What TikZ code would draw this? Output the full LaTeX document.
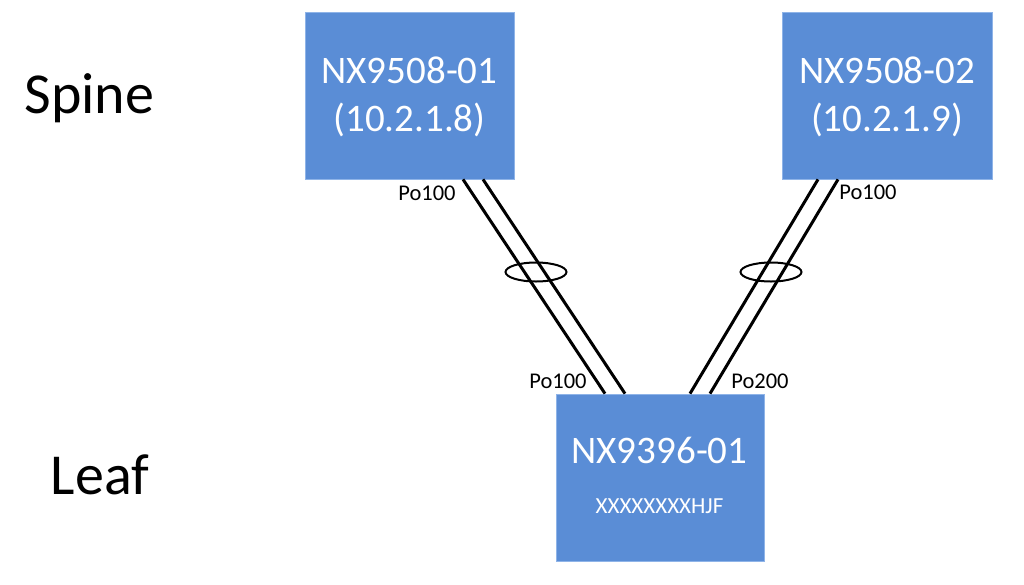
\documentclass[tikz,border=0pt]{standalone}
\usepackage{fontspec}
\setmainfont{Carlito}
\usetikzlibrary{shapes.geometric}
\definecolor{boxblue}{HTML}{5A8DD6}
\definecolor{boxedge}{HTML}{8FB4E8}
\tikzset{
  switchbox/.style={rectangle, fill=boxblue, draw=boxedge, line width=0.8pt, inner sep=0pt},
  boxtext/.style={text=white, font=\fontsize{39}{47}\selectfont, inner sep=0pt, anchor=base},
  smalltext/.style={text=white, font=\fontsize{23}{27}\selectfont, inner sep=0pt, anchor=base},
  tiertext/.style={text=black, font=\fontsize{58}{70}\selectfont, inner sep=0pt, anchor=base},
  portlabel/.style={text=black, font=\fontsize{22.5}{27}\selectfont, inner sep=0pt, anchor=base},
  link/.style={draw=black, line width=3pt},
  lag/.style={ellipse, draw=black, line width=2pt, inner sep=0pt, minimum width=61pt, minimum height=19pt}
}
\begin{document}
\begin{tikzpicture}[x=1pt,y=-1pt]
\useasboundingbox (0,0) rectangle (1024,584);
\fill[white] (0,0) rectangle (1024,584);

% switches
\node[switchbox, minimum width=209pt, minimum height=167pt] (spine1) at (409.5,95.5) {};
\node[switchbox, minimum width=210pt, minimum height=167pt] (spine2) at (887,95.5) {};
\node[switchbox, minimum width=208pt, minimum height=167pt] (leaf) at (660,477.5) {};

% box texts
\node[boxtext] (s1name) at (409.5,83) {NX9508-01};
\node[boxtext] (s1ip) at (409.5,131) {(10.2.1.8)};
\node[boxtext] (s2name) at (887,83) {NX9508-02};
\node[boxtext] (s2ip) at (887,131) {(10.2.1.9)};
\node[boxtext] (lname) at (659.5,463) {NX9396-01};
\node[smalltext] (lserial) at (659.5,513) {XXXXXXXXHJF};

% tier labels
\node[tiertext] (spinelbl) at (89.5,113) {Spine};
\node[tiertext] (leaflbl) at (100,494) {Leaf};

% links
\draw[link] ([xshift=53.5pt]spine1.south) -- ([xshift=-55pt]leaf.north);
\draw[link] ([xshift=73.5pt]spine1.south) -- ([xshift=-35pt]leaf.north);
\draw[link] ([xshift=-69pt]spine2.south) -- ([xshift=30pt]leaf.north);
\draw[link] ([xshift=-49pt]spine2.south) -- ([xshift=50pt]leaf.north);

% port-channel ellipses
\node[lag] (lag1) at (536,272) {};
\node[lag] (lag2) at (771,272) {};

% port labels
\node[portlabel] (p1) at (427,200) {Po100};
\node[portlabel] (p2) at (868,199) {Po100};
\node[portlabel] (p3) at (558,388) {Po100};
\node[portlabel] (p4) at (760,388) {Po200};
\end{tikzpicture}
\end{document}
